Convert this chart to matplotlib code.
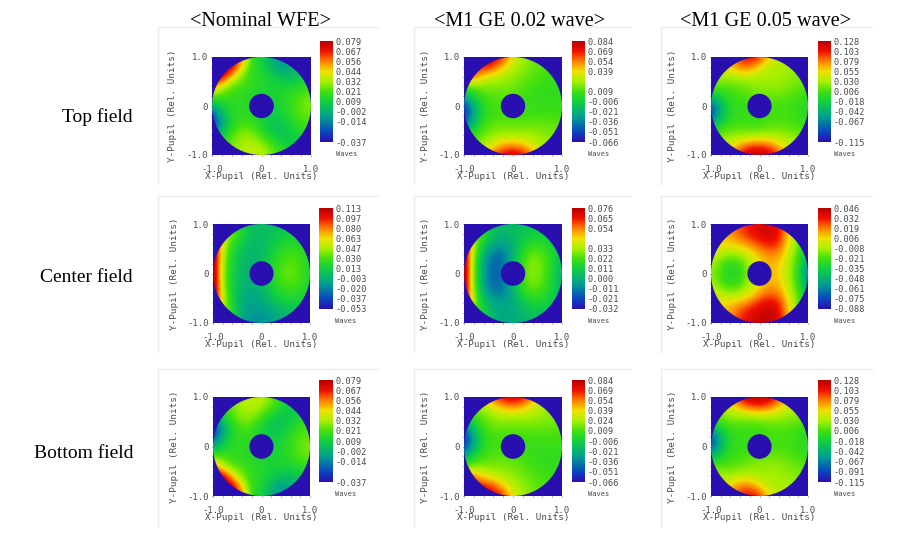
import matplotlib
matplotlib.use('Agg')
import matplotlib.pyplot as plt
import numpy as np
from matplotlib.colors import LinearSegmentedColormap
from matplotlib.lines import Line2D
from matplotlib.patches import Circle
from matplotlib.ticker import AutoMinorLocator

W, H = 898, 538

col_titles = ['<Nominal WFE>', '<M1 GE 0.02 wave>', '<M1 GE 0.05 wave>']
row_titles = ['Top field', 'Center field', 'Bottom field']

# colorbar labels top to bottom, '' where the original skips a label
labels_nominal_top = ['0.079', '0.067', '0.056', '0.044', '0.032', '0.021', '0.009', '-0.002', '-0.014', '', '-0.037']
labels_002_top = ['0.084', '0.069', '0.054', '0.039', '', '0.009', '-0.006', '-0.021', '-0.036', '-0.051', '-0.066']
labels_005_top = ['0.128', '0.103', '0.079', '0.055', '0.030', '0.006', '-0.018', '-0.042', '-0.067', '', '-0.115']
labels_nominal_center = ['0.113', '0.097', '0.080', '0.063', '0.047', '0.030', '0.013', '-0.003', '-0.020', '-0.037', '-0.053']
labels_002_center = ['0.076', '0.065', '0.054', '', '0.033', '0.022', '0.011', '0.000', '-0.011', '-0.021', '-0.032']
labels_005_center = ['0.046', '0.032', '0.019', '0.006', '-0.008', '-0.021', '-0.035', '-0.048', '-0.061', '-0.075', '-0.088']
labels_nominal_bottom = ['0.079', '0.067', '0.056', '0.044', '0.032', '0.021', '0.009', '-0.002', '-0.014', '', '-0.037']
labels_002_bottom = ['0.084', '0.069', '0.054', '0.039', '0.024', '0.009', '-0.006', '-0.021', '-0.036', '-0.051', '-0.066']
labels_005_bottom = ['0.128', '0.103', '0.079', '0.055', '0.030', '0.006', '-0.018', '-0.042', '-0.067', '-0.091', '-0.115']

# maps: percent of each panel's colour scale, read at x = -1..1, y = 1..-1, step 0.2
map_nominal_top = [
    [70, 80, 95, 85, 46, 40, 30, 22, 25, 30, 35],
    [95, 100, 100, 70, 46, 43, 32, 25, 28, 33, 38],
    [98, 100, 72, 55, 47, 44, 40, 35, 34, 38, 42],
    [85, 62, 52, 50, 46, 44, 42, 42, 42, 45, 48],
    [52, 50, 48, 46, 44, 42, 42, 43, 47, 52, 55],
    [28, 40, 46, 46, 44, 42, 40, 43, 48, 54, 56],
    [8, 30, 44, 47, 46, 42, 38, 40, 46, 52, 54],
    [5, 26, 44, 52, 50, 42, 36, 36, 42, 48, 50],
    [30, 40, 52, 58, 58, 50, 40, 36, 38, 42, 45],
    [45, 48, 55, 60, 62, 60, 52, 44, 38, 38, 40],
    [50, 52, 58, 62, 64, 62, 56, 46, 40, 38, 38],
]
map_002_top = [
    [85, 90, 95, 95, 88, 68, 60, 55, 52, 50, 50],
    [85, 90, 92, 86, 72, 62, 58, 54, 52, 50, 50],
    [80, 82, 68, 64, 60, 58, 55, 52, 50, 49, 49],
    [52, 56, 56, 56, 56, 55, 52, 50, 48, 47, 48],
    [30, 42, 50, 52, 52, 52, 50, 48, 47, 47, 48],
    [5, 30, 46, 50, 50, 50, 48, 48, 48, 48, 48],
    [5, 28, 45, 50, 50, 50, 50, 50, 50, 50, 50],
    [20, 36, 50, 54, 54, 54, 54, 54, 54, 54, 52],
    [45, 50, 54, 58, 60, 60, 60, 60, 58, 56, 54],
    [52, 56, 60, 68, 76, 78, 74, 66, 60, 58, 55],
    [55, 60, 70, 84, 94, 98, 94, 80, 65, 60, 56],
]
map_005_top = [
    [65, 70, 75, 88, 92, 90, 70, 64, 62, 60, 58],
    [65, 68, 72, 82, 82, 70, 62, 60, 60, 58, 56],
    [60, 60, 60, 62, 62, 60, 60, 60, 58, 56, 54],
    [55, 52, 52, 54, 56, 58, 58, 58, 56, 54, 52],
    [34, 42, 48, 50, 52, 54, 54, 54, 52, 50, 48],
    [10, 32, 46, 48, 48, 50, 50, 50, 50, 48, 44],
    [10, 32, 46, 48, 48, 48, 50, 50, 50, 48, 44],
    [34, 44, 50, 50, 50, 50, 52, 52, 52, 50, 48],
    [52, 55, 58, 58, 58, 60, 60, 60, 58, 56, 54],
    [60, 62, 66, 76, 84, 86, 82, 72, 64, 60, 58],
    [62, 66, 78, 92, 100, 100, 98, 86, 70, 62, 60],
]
map_nominal_center = [
    [50, 50, 46, 42, 35, 32, 34, 36, 38, 38, 38],
    [60, 60, 58, 42, 35, 33, 36, 38, 40, 40, 40],
    [100, 68, 46, 38, 33, 32, 37, 42, 44, 44, 42],
    [110, 62, 42, 35, 31, 33, 40, 47, 50, 48, 42],
    [110, 58, 42, 33, 30, 33, 42, 50, 53, 50, 42],
    [110, 58, 40, 32, 30, 34, 44, 52, 54, 51, 42],
    [110, 58, 40, 32, 29, 32, 42, 49, 52, 49, 42],
    [110, 62, 40, 30, 28, 30, 38, 44, 46, 45, 40],
    [100, 66, 40, 28, 26, 27, 32, 38, 40, 40, 38],
    [60, 55, 50, 27, 24, 24, 27, 30, 33, 35, 35],
    [45, 40, 32, 26, 22, 22, 25, 28, 30, 32, 32],
]
map_002_center = [
    [45, 45, 40, 34, 32, 32, 34, 36, 36, 34, 32],
    [55, 55, 50, 34, 32, 33, 37, 40, 40, 36, 33],
    [100, 62, 38, 28, 26, 30, 40, 46, 46, 40, 34],
    [110, 56, 30, 18, 18, 30, 46, 54, 52, 44, 34],
    [110, 52, 26, 14, 16, 32, 50, 58, 54, 44, 32],
    [110, 54, 26, 13, 18, 34, 52, 58, 54, 42, 30],
    [110, 52, 26, 14, 18, 32, 50, 56, 52, 42, 30],
    [110, 56, 30, 20, 20, 30, 44, 50, 48, 40, 32],
    [100, 60, 36, 28, 26, 28, 36, 42, 42, 38, 32],
    [55, 50, 44, 30, 28, 28, 32, 35, 35, 34, 32],
    [40, 40, 36, 30, 28, 28, 30, 32, 33, 32, 30],
]
map_005_center = [
    [70, 72, 78, 85, 90, 95, 95, 92, 75, 58, 40],
    [68, 72, 78, 84, 90, 94, 95, 92, 72, 56, 38],
    [70, 70, 72, 75, 80, 86, 90, 88, 68, 54, 35],
    [68, 62, 58, 60, 66, 74, 80, 78, 64, 52, 32],
    [60, 52, 46, 50, 60, 70, 75, 73, 62, 48, 25],
    [58, 50, 42, 46, 58, 68, 73, 72, 60, 46, 15],
    [60, 52, 46, 50, 60, 70, 75, 74, 62, 48, 25],
    [68, 62, 58, 60, 66, 76, 82, 80, 65, 52, 32],
    [70, 70, 72, 76, 82, 90, 94, 90, 70, 54, 35],
    [70, 72, 78, 86, 92, 96, 98, 94, 72, 56, 38],
    [70, 74, 80, 88, 94, 98, 98, 94, 75, 58, 40],
]
map_nominal_bottom = [
    [50, 52, 58, 62, 64, 62, 56, 46, 40, 38, 38],
    [45, 48, 55, 60, 62, 60, 52, 44, 38, 38, 40],
    [30, 40, 52, 58, 58, 50, 40, 36, 38, 42, 45],
    [5, 26, 44, 52, 50, 42, 36, 36, 42, 48, 50],
    [8, 30, 44, 47, 46, 42, 38, 40, 46, 52, 54],
    [28, 40, 46, 46, 44, 42, 40, 43, 48, 54, 56],
    [52, 50, 48, 46, 44, 42, 42, 43, 47, 52, 55],
    [85, 62, 52, 50, 46, 44, 42, 42, 42, 45, 48],
    [98, 100, 72, 55, 47, 44, 40, 35, 34, 38, 42],
    [95, 100, 100, 70, 46, 43, 32, 25, 28, 33, 38],
    [70, 80, 95, 85, 46, 40, 30, 22, 25, 30, 35],
]
map_002_bottom = [
    [55, 60, 70, 84, 94, 98, 94, 80, 65, 60, 56],
    [52, 56, 60, 68, 76, 78, 74, 66, 60, 58, 55],
    [45, 50, 54, 58, 60, 60, 60, 60, 58, 56, 54],
    [20, 36, 50, 54, 54, 54, 54, 54, 54, 54, 52],
    [5, 28, 45, 50, 50, 50, 50, 50, 50, 50, 50],
    [5, 30, 46, 50, 50, 50, 48, 48, 48, 48, 48],
    [30, 42, 50, 52, 52, 52, 50, 48, 47, 47, 48],
    [52, 56, 56, 56, 56, 55, 52, 50, 48, 47, 48],
    [80, 82, 68, 64, 60, 58, 55, 52, 50, 49, 49],
    [85, 90, 92, 86, 72, 62, 58, 54, 52, 50, 50],
    [85, 90, 95, 95, 88, 68, 60, 55, 52, 50, 50],
]
map_005_bottom = [
    [62, 66, 78, 92, 100, 100, 98, 86, 70, 62, 60],
    [60, 62, 66, 76, 84, 86, 82, 72, 64, 60, 58],
    [52, 55, 58, 58, 58, 60, 60, 60, 58, 56, 54],
    [34, 44, 50, 50, 50, 50, 52, 52, 52, 50, 48],
    [10, 32, 46, 48, 48, 48, 50, 50, 50, 48, 44],
    [10, 32, 46, 48, 48, 50, 50, 50, 50, 48, 44],
    [34, 42, 48, 50, 52, 54, 54, 54, 52, 50, 48],
    [55, 52, 52, 54, 56, 58, 58, 58, 56, 54, 52],
    [60, 60, 60, 62, 62, 60, 60, 60, 58, 56, 54],
    [65, 68, 72, 82, 82, 70, 62, 60, 60, 58, 56],
    [65, 70, 75, 88, 92, 90, 70, 64, 62, 60, 58],
]

all_maps = [
    [map_nominal_top, map_002_top, map_005_top],
    [map_nominal_center, map_002_center, map_005_center],
    [map_nominal_bottom, map_002_bottom, map_005_bottom],
]
all_labels = [
    [labels_nominal_top, labels_002_top, labels_005_top],
    [labels_nominal_center, labels_002_center, labels_005_center],
    [labels_nominal_bottom, labels_002_bottom, labels_005_bottom],
]

# pixel layout of the pasted panels
plot_x = [[(212, 311), (464, 562), (711, 808)],
          [(213, 310), (464, 562), (711, 808)],
          [(213, 310), (464, 562), (711, 808)]]
plot_y = [(57, 155), (224, 323), (397, 496)]
cbar_x = [[(320, 333), (572, 585), (818, 831)],
          [(319, 333), (572, 585), (818, 831)],
          [(319, 333), (572, 585), (818, 831)]]
cbar_y = [(41, 142), (208, 309), (380, 482)]
card_x = [(158, 378), (414, 630), (661, 872)]
card_y = [(27, 184), (196, 352), (369, 527)]

NAVY = '#2a0fb0'
GREY = '#4a4a4a'
cmap = LinearSegmentedColormap.from_list('waves', [
    (0.0, NAVY), (0.1, '#0a45c0'), (0.25, '#00a090'), (0.4, '#10d040'),
    (0.5, '#40e010'), (0.6, '#a8f000'), (0.7, '#f0e000'), (0.8, '#ff8000'),
    (0.9, '#f01000'), (1.0, '#b80000')])


def px_rect(l, t, r, b):
    return [l / W, 1 - b / H, (r - l) / W, (b - t) / H]


def px_line(fig, x0, y0, x1, y1):
    fig.add_artist(Line2D([x0 / W, x1 / W], [1 - y0 / H, 1 - y1 / H], color='#ececec', lw=1))


fig = plt.figure(figsize=(W / 100, H / 100), dpi=100)
mono = 'DejaVu Sans Mono'

for i in range(3):
    for j in range(3):
        l, r = card_x[j]
        t, b = card_y[i]
        px_line(fig, l, t, r, t)
        px_line(fig, l, t, l, b)

        labels = all_labels[i][j]
        vmax = float(labels[0])
        vmin = float(labels[-1])
        values = vmin + np.array(all_maps[i][j]) / 100 * (vmax - vmin)

        x0, x1 = plot_x[i][j]
        y0, y1 = plot_y[i]
        ax = fig.add_axes(px_rect(x0, y0, x1, y1), facecolor=NAVY)
        im = ax.imshow(values, cmap=cmap, vmin=vmin, vmax=vmax, interpolation='bicubic',
                       extent=(-1.1, 1.1, -1.1, 1.1), aspect='auto')
        im.set_clip_path(Circle((0, 0), 1.0, transform=ax.transData))
        ax.add_patch(Circle((0, 0), 0.235, color=NAVY))
        ax.set_xlim(-1, 1)
        ax.set_ylim(-1, 1)

        ax.set_xticks([-1, 0, 1], ['-1.0', '0', '1.0'])
        ax.set_yticks([-1, 0, 1], ['-1.0', '0', '1.0'])
        ax.xaxis.set_minor_locator(AutoMinorLocator(5))
        ax.yaxis.set_minor_locator(AutoMinorLocator(5))
        ax.tick_params(which='both', length=1, width=0.5, color=GREY, labelsize=6.4,
                       labelcolor=GREY)
        ax.tick_params(axis='x', pad=6)
        ax.tick_params(axis='y', pad=2)
        for lab in ax.get_xticklabels() + ax.get_yticklabels():
            lab.set_family(mono)
        for side in ax.spines.values():
            side.set_visible(False)
        ax.set_xlabel('X-Pupil (Rel. Units)', family=mono, fontsize=6.7, color=GREY)
        ax.xaxis.set_label_coords(0.5, -0.17)
        ax.set_ylabel('Y-Pupil (Rel. Units)', family=mono, fontsize=6.7, color=GREY)
        ax.yaxis.set_label_coords(-0.35, 0.5)

        cx0, cx1 = cbar_x[i][j]
        cy0, cy1 = cbar_y[i]
        cax = fig.add_axes(px_rect(cx0, cy0, cx1, cy1))
        cb = fig.colorbar(im, cax=cax)
        ticks = np.linspace(vmax, vmin, 11)
        cb.set_ticks(ticks, labels=labels)
        cb.ax.tick_params(length=0, labelsize=6.2, labelcolor=GREY, pad=1.5)
        for lab in cb.ax.get_yticklabels():
            lab.set_family(mono)
        cb.outline.set_visible(False)
        fig.text((cx0 + 27) / W, 1 - (cy1 + 12) / H, 'Waves', family=mono, fontsize=5,
                 color=GREY, ha='center', va='center')

title_x = [260, 520, 766]
for j, name in enumerate(col_titles):
    fig.text(title_x[j] / W, 1 - 22 / H, name, family='Liberation Serif', fontsize=14.6,
             ha='center', va='center', color='black')

row_y = [117, 278, 453]
for i, name in enumerate(row_titles):
    fig.text(133 / W, 1 - row_y[i] / H, name, family='Liberation Serif', fontsize=14,
             ha='right', va='center', color='black')

fig.savefig('out.png', dpi=100)
